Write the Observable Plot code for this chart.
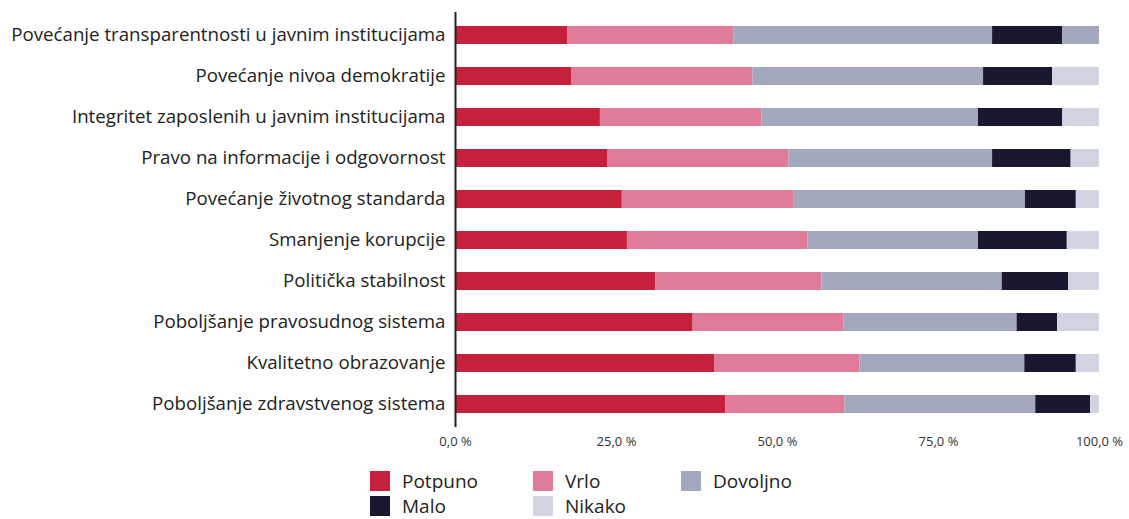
<!DOCTYPE html>
<html><head><meta charset="utf-8">
<script src="https://cdn.jsdelivr.net/npm/d3@7"></script>
<script src="https://cdn.jsdelivr.net/npm/@observablehq/plot@0.6"></script>
<style>
body{margin:0;background:#fff;font-family:"Open Sans",sans-serif;}
#chart svg{display:block;}
#legend{display:grid;grid-template-columns:163px 148px 150px;row-gap:5px;margin-left:370px;margin-top:19px;font-size:19px;line-height:20px;color:#222;}
#legend .it{display:flex;align-items:center;height:20px;}
#legend .sw{width:20px;height:20px;margin-right:12px;flex:none;}
</style></head><body>
<div id="chart"></div>
<div id="legend"></div>
<script>
const categories = [
  "Povećanje transparentnosti u javnim institucijama",
  "Povećanje nivoa demokratije",
  "Integritet zaposlenih u javnim institucijama",
  "Pravo na informacije i odgovornost",
  "Povećanje životnog standarda",
  "Smanjenje korupcije",
  "Politička stabilnost",
  "Poboljšanje pravosudnog sistema",
  "Kvalitetno obrazovanje",
  "Poboljšanje zdravstvenog sistema"
];
const seriesNames = ["Potpuno","Vrlo","Dovoljno","Malo","Nikako"];
const seriesColors = ["#c5203c","#e07b9a","#a3a8be","#1a1830","#d2d4e1"];
const potpuno  = [17.4,18.1,22.5,23.7,25.9,26.7,31.1,36.9,40.3,42.0];
const vrlo     = [25.8,28.1,25.1,28.1,26.7,28.0,25.8,23.4,22.5,18.5];
const dovoljno = [40.2,35.8,33.6,31.6,35.9,26.5,28.0,26.9,25.6,29.6];
const malo     = [10.9,10.7,13.1,12.2, 7.9,13.8,10.3, 6.3, 8.0, 8.5];
const nikako   = [ 5.7, 7.3, 5.7, 4.4, 3.6, 5.0, 4.8, 6.5, 3.6, 1.4];
const xTicks = [0,25,50,75,100];

const cols = [potpuno,vrlo,dovoljno,malo,nikako];
const data = [];
categories.forEach((c,i)=>{
  seriesNames.forEach((s,j)=>{
    // the reference draws the last segment of the first row in the Dovoljno colour
    const fillKey = (i===0 && s==="Nikako") ? "Dovoljno" : s;
    data.push({category:c, series:s, value:cols[j][i], fillKey, order:j});
  });
});

const fmt = v => d3.format(".1f")(v).replace(".",",") + " %";

const plot = Plot.plot({
  width:1129, height:452,
  marginLeft:455, marginRight:30, marginTop:12, marginBottom:25,
  style:{fontFamily:"'Open Sans',sans-serif", color:"#222", background:"#fff"},
  x:{domain:[0,100], ticks:xTicks, tickFormat:fmt, label:null},
  y:{domain:categories, paddingInner:0.56, paddingOuter:0.3, label:null},
  color:{domain:seriesNames, range:seriesColors},
  marks:[
    Plot.barX(data, Plot.stackX({x:"value", y:"category", fill:"fillKey", order:"order", z:"series"})),
    Plot.ruleX([0], {stroke:"#222", strokeWidth:2}),
    Plot.axisX({ticks:xTicks, tickFormat:fmt, tickSize:0, tickPadding:9, fontSize:13, fill:"#333", label:null}),
    Plot.axisY({tickSize:0, tickPadding:10, fontSize:18.7, fill:"#222", label:null})
  ]
});
document.getElementById("chart").appendChild(plot);

const leg = document.getElementById("legend");
seriesNames.forEach((s,j)=>{
  const it = document.createElement("div"); it.className="it";
  const sw = document.createElement("div"); sw.className="sw"; sw.style.background=seriesColors[j];
  const t = document.createElement("span"); t.textContent=s;
  it.appendChild(sw); it.appendChild(t); leg.appendChild(it);
});
</script>
</body></html>
